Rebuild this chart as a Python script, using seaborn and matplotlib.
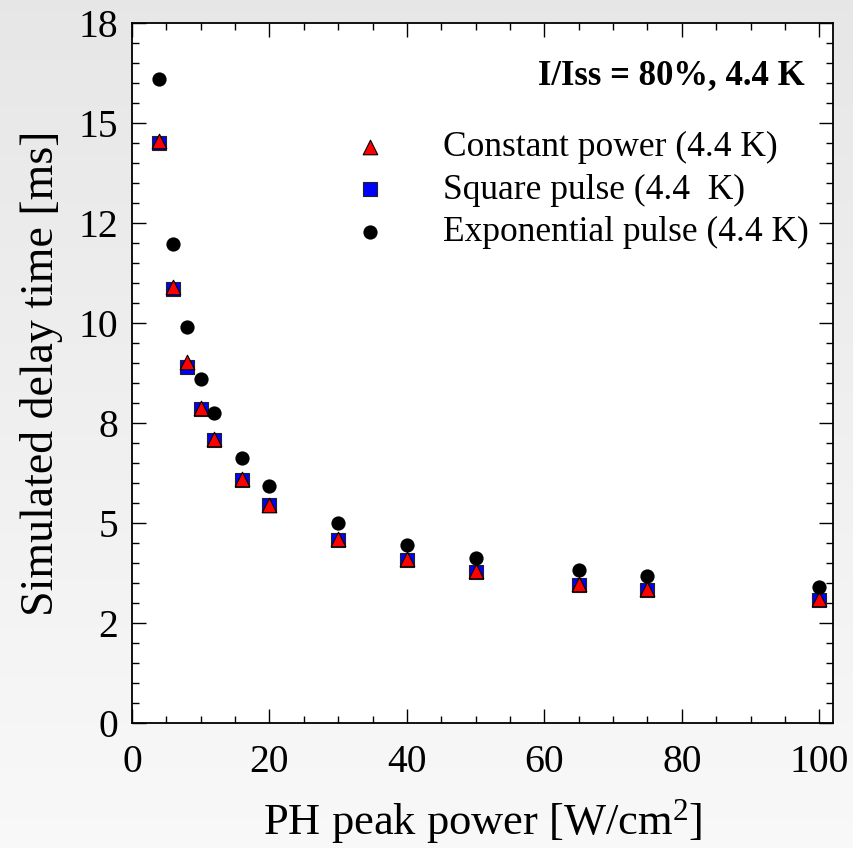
import numpy as np
import pandas as pd
import matplotlib
matplotlib.use("Agg")
import matplotlib.pyplot as plt
from matplotlib.ticker import MultipleLocator
import seaborn as sns

# ---- data ----
power = [4, 6, 8, 10, 12, 16, 20, 30, 40, 50, 65, 75, 100]
constant_power = [14.55, 10.89, 9.03, 7.88, 7.10, 6.09, 5.46, 4.59, 4.10, 3.79, 3.48, 3.34, 3.09]
square_pulse = [14.51, 10.86, 8.90, 7.86, 7.08, 6.07, 5.44, 4.57, 4.08, 3.77, 3.46, 3.32, 3.07]
exponential_pulse = [16.09, 11.97, 9.89, 8.60, 7.74, 6.62, 5.93, 4.99, 4.45, 4.13, 3.82, 3.68, 3.40]

series_labels = ["Constant power (4.4 K)", "Square pulse (4.4  K)", "Exponential pulse (4.4 K)"]
xtick_values = [0, 20, 40, 60, 80, 100]
ytick_values = [0, 2.5, 5, 7.5, 10, 12.5, 15, 17.5]
ytick_labels = ["0", "2", "5", "8", "10", "12", "15", "18"]
annotation = "I/Iss = 80%, 4.4 K"

sns.set_theme(style="ticks")
plt.rcParams["font.family"] = ["Liberation Serif", "DejaVu Serif"]
plt.rcParams["mathtext.fontset"] = "custom"
plt.rcParams["mathtext.rm"] = "Liberation Serif"
plt.rcParams["mathtext.it"] = "Liberation Serif:italic"
plt.rcParams["mathtext.bf"] = "Liberation Serif:bold"
plt.rcParams["text.color"] = "black"
plt.rcParams["axes.labelcolor"] = "black"
plt.rcParams["xtick.color"] = "black"
plt.rcParams["ytick.color"] = "black"

W, H = 854, 848
fig = plt.figure(figsize=(W / 100, H / 100), dpi=100)

# gradient background
bg = fig.add_axes([0, 0, 1, 1], zorder=-10)
grad = np.linspace(0.905, 0.975, 256).reshape(-1, 1)
bg.imshow(np.dstack([grad, grad, grad]), aspect="auto", extent=[0, 1, 0, 1], origin="upper")
bg.set_axis_off()

ax = fig.add_axes([132 / W, 1 - 723 / H, (833 - 132) / W, (723 - 23) / H])
ax.set_facecolor("white")

df_sq = pd.DataFrame({"x": power, "y": square_pulse})
df_cp = pd.DataFrame({"x": power, "y": constant_power})
df_ex = pd.DataFrame({"x": power, "y": exponential_pulse})

sns.scatterplot(data=df_sq, x="x", y="y", ax=ax, marker="s", s=100, color="#0000ff",
                edgecolor="#222222", linewidth=0.8, label=series_labels[1], zorder=3)
sns.scatterplot(data=df_cp, x="x", y="y", ax=ax, marker="^", s=110, color="#ff0000",
                edgecolor="black", linewidth=0.8, label=series_labels[0], zorder=4)
sns.scatterplot(data=df_ex, x="x", y="y", ax=ax, marker="o", s=105, color="black",
                edgecolor="black", linewidth=0, label=series_labels[2], zorder=5)

ax.set_xlim(0, 102)
ax.set_ylim(0, 17.5)
ax.set_xticks(xtick_values)
ax.set_yticks(ytick_values, labels=ytick_labels)
ax.xaxis.set_minor_locator(MultipleLocator(5))
ax.yaxis.set_minor_locator(MultipleLocator(0.5))
ax.tick_params(which="both", direction="in", top=True, right=True, colors="black",
               labelcolor="black", labelsize=28.5, width=1.0)
ax.tick_params(which="major", length=10)
ax.tick_params(which="minor", length=5)
ax.tick_params(axis="x", which="major", pad=15)
ax.tick_params(axis="y", which="major", pad=10)
for sp in ax.spines.values():
    sp.set_visible(True)
    sp.set_linewidth(1.3)
    sp.set_color("black")

ax.set_xlabel("PH peak power [W/cm$^2$]", fontsize=32, labelpad=12, color="black")
ax.set_ylabel("Simulated delay time [ms]", fontsize=33, labelpad=11, color="black")

handles, labels = ax.get_legend_handles_labels()
order = [labels.index(l) for l in series_labels]
leg = ax.legend([handles[i] for i in order], [labels[i] for i in order],
                loc="upper left", bbox_to_anchor=(335 / W, 1 - 131 / H),
                bbox_transform=fig.transFigure, frameon=False, fontsize=25.5,
                borderpad=0, handlelength=2.0, handletextpad=1.06, labelspacing=0.27,
                borderaxespad=0, scatterpoints=1)
for t in leg.get_texts():
    t.set_color("black")

fig.text(805 / W, 1 - 76 / H, annotation, ha="right", va="center",
         fontsize=25, fontweight="bold", color="black")

fig.savefig("out.png", dpi=100)
